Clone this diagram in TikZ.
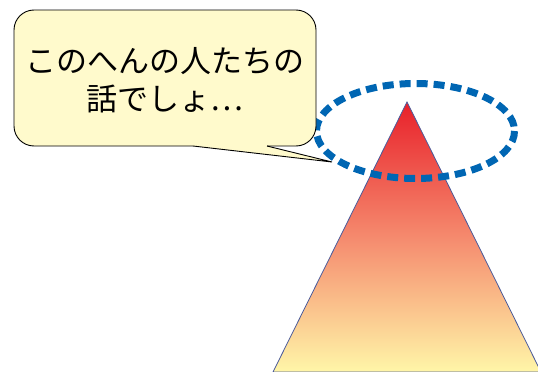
\documentclass[tikz,border=0pt]{standalone}
\usepackage{fontspec}
\newfontfamily\cjk{Noto Sans CJK JP}
\definecolor{bub}{HTML}{FFFACC}
\definecolor{trired}{HTML}{E8202A}
\definecolor{trimid}{HTML}{F58A6E}
\definecolor{triyel}{HTML}{FFF6A8}
\definecolor{triedge}{HTML}{4A5A9A}
\definecolor{ringblue}{HTML}{0066B3}
\tikzset{
  bubbleline/.style={draw=black, line width=0.9pt},
  ring/.style={draw=ringblue, line width=7pt, dash pattern=on 11pt off 6pt},
  bubbletext/.style={font=\cjk\fontsize{31}{37.5}\selectfont, align=center, inner sep=0pt}
}
\begin{document}
\begin{tikzpicture}[x=1pt,y=-1pt]
\useasboundingbox (0,0) rectangle (538,372);
\begin{scope}
  \clip (0,0) rectangle (538,372);
  \path[top color=trired, bottom color=triyel, middle color=trimid, draw=triedge, line width=0.8pt]
    (407,102) -- (273,372) -- (541,372) -- cycle;
\end{scope}
\draw[ring] (415.5,131) ellipse [x radius=99, y radius=47.5];
% bubble
\fill[bub, rounded corners=20] (14,10) rectangle (316,146);
\fill[bub] (193,144) -- (193,146) -- (332,162) -- (267,146) -- (267,144) -- cycle;
\draw[bubbleline, rounded corners=20] (193,146) -- (14,146) -- (14,10) -- (316,10) -- (316,146) -- (267,146);
\draw[bubbleline] (267,146) -- (332,162) -- (193,146);
\node[bubbletext] (txt) at (165,80) {このへんの人たちの\\話でしょ…};
\end{tikzpicture}
\end{document}
